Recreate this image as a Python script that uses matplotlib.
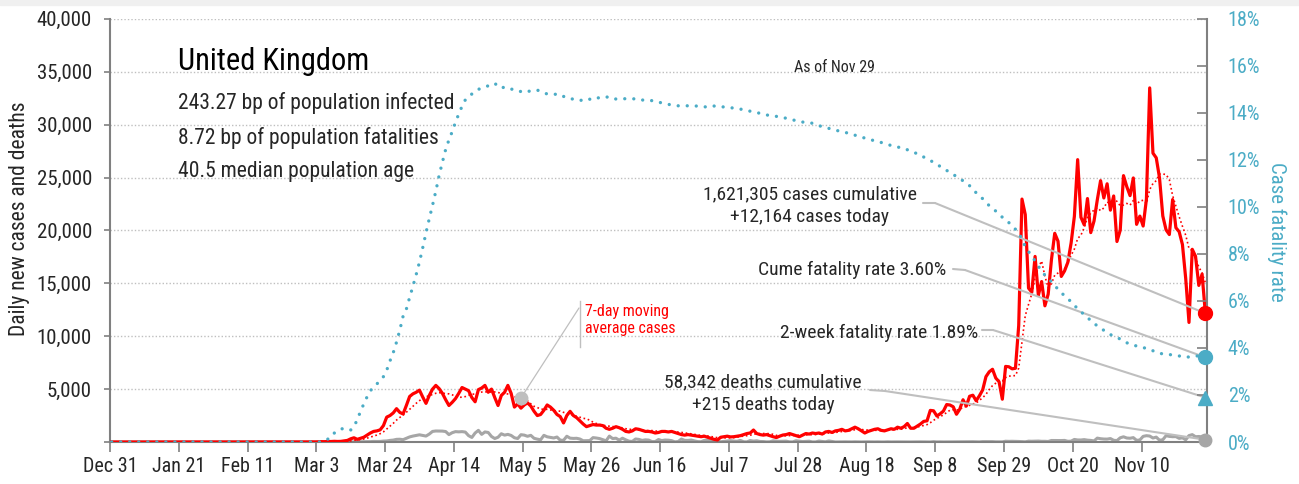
import numpy as np
import pandas as pd
import matplotlib
matplotlib.use('Agg')
import matplotlib.pyplot as plt
from matplotlib.patches import ConnectionPatch, Rectangle
from matplotlib.lines import Line2D

plt.rcParams['font.family'] = ['Roboto Condensed', 'IBM Plex Sans Condensed', 'DejaVu Sans']

# daily new cases, Dec 31 2019 -> Nov 29 2020, one list per month
cases_dec = [0]
cases_jan = [0] * 30 + [2]
cases_feb = [0, 0, 0, 0, 0, 1, 0, 0, 0, 4, 1, 0, 0, 0, 0, 0, 0, 0, 0, 0,
             0, 0, 0, 0, 4, 0, 2, 5, 3]
cases_mar = [12, 4, 11, 34, 29, 46, 46, 65, 50, 60, 100, 150, 300, 400, 250,
             350, 450, 650, 850, 1000, 1050, 1150, 1550, 2350, 2500, 2750,
             3150, 2800, 2650, 3450, 4300]
cases_apr = [4550, 4700, 4900, 4250, 3650, 4400, 5000, 5350, 5050, 4600,
             4000, 3450, 3750, 4100, 4600, 5150, 5000, 4850, 4200, 3800,
             4950, 5100, 5350, 4700, 5000, 4200, 3450, 4400, 4700, 5350]
cases_may = [4600, 3300, 3600, 3200, 3500, 3700, 3400, 2900, 2500, 2600,
             3000, 3500, 3300, 3000, 2600, 2400, 1800, 2500, 2900, 2500,
             2300, 2000, 1700, 1450, 1550, 1650, 1600, 1600, 1550, 1300, 1200]
cases_jun = [1300, 1450, 1350, 1200, 1000, 950, 1050, 1250, 1200, 1100,
             1000, 1000, 950, 850, 900, 1000, 1000, 950, 1000, 900,
             800, 700, 650, 700, 650, 600, 550, 500, 550, 450]
cases_jul = [350, 250, 190, 450, 500, 550, 480, 500, 550, 600,
             700, 800, 850, 1130, 800, 700, 650, 700, 600, 500,
             420, 550, 660, 700, 800, 700, 600, 500, 650, 800, 750]
cases_aug = [850, 800, 850, 750, 950, 1000, 900, 1050, 1100, 1200,
             1050, 1100, 1250, 1400, 1250, 1050, 850, 1000, 1100, 1200,
             1250, 1100, 1050, 1150, 1250, 1200, 1400, 1300, 1450, 1750, 1300]
cases_sep = [1300, 1500, 1700, 1950, 2000, 2988, 2948, 2460, 2659, 2919,
             3539, 3497, 3330, 2621, 3105, 3991, 3395, 4322, 4422, 3899,
             4368, 4926, 6178, 6634, 6874, 6042, 5693, 4044, 7143, 7108]
cases_oct = [6914, 6968, 11000, 22961, 21500, 14542, 14162, 17540, 13864,
             15166, 12872, 13972, 17234, 19724, 18980, 15650, 16171, 16982,
             18804, 21331, 26688, 21242, 20530, 23012, 19790, 20890, 22885,
             24701, 23065, 24405, 21915]
cases_nov = [23254, 18950, 20018, 25177, 24141, 23287, 24957, 20572, 21350,
             20412, 22950, 33470, 27301, 26860, 24962, 21363, 20051, 19609,
             22915, 20252, 19875, 18662, 15450, 11299, 18213, 17555, 14800,
             15871, 12164]

# daily new deaths
deaths_dec = [0]
deaths_jan = [0] * 31
deaths_feb = [0] * 29
deaths_mar = [0, 0, 0, 0, 1, 1, 0, 1, 1, 2, 2, 1, 10, 14, 20, 16, 33, 40, 33,
              56, 48, 54, 87, 100, 150, 180, 250, 260, 220, 350, 480]
deaths_apr = [560, 620, 680, 620, 560, 750, 1000, 1040, 1040, 1030, 990, 700,
              880, 980, 960, 980, 940, 600, 430, 850, 1100, 720, 950, 900,
              520, 330, 450, 780, 650, 720]
deaths_may = [620, 400, 330, 690, 650, 540, 630, 350, 270, 210, 630, 490, 430,
              380, 470, 170, 160, 545, 363, 338, 351, 282, 118, 121, 134, 412,
              377, 324, 215, 113, 556]
deaths_jun = [324, 359, 176, 357, 204, 77, 55, 286, 245, 151, 202, 181, 36, 38,
              233, 135, 184, 173, 128, 15, 43, 280, 154, 149, 186, 100, 36, 25,
              155, 176]
deaths_jul = [89, 137, 67, 22, 58, 85, 126, 85, 66, 148, 21, 11, 138, 85, 114,
              49, 40, 11, 18, 110, 79, 61, 66, 79, 14, 11, 119, 83, 38, 53, 74]
deaths_aug = [7, 8, 89, 49, 20, 98, 55, 3, 8, 11, 16, 12, 6, 18, 5, 2, 12, 16,
              6, 6, 12, 2, 3, 16, 6, 12, 10, 6, 1, 2, 3]
deaths_sep = [10, 8, 14, 12, 2, 3, 32, 8, 14, 6, 9, 5, 9, 27, 20, 21, 21, 27,
              27, 18, 11, 37, 37, 40, 34, 17, 17, 13, 71, 59]
deaths_oct = [66, 59, 49, 33, 19, 76, 70, 77, 87, 65, 65, 50, 143, 137, 138,
              136, 150, 67, 80, 241, 191, 189, 224, 174, 151, 102, 367, 310,
              280, 274, 326]
deaths_nov = [162, 136, 397, 492, 378, 355, 413, 156, 194, 532, 595, 563, 376,
              462, 168, 213, 598, 529, 501, 511, 341, 398, 206, 608, 696, 498,
              521, 479, 215]

# cumulative case fatality rate, %
cfr_dec = [0]
cfr_jan = [0] * 31
cfr_feb = [0] * 29
cfr_mar = [0, 0, 0, 0, 0.05, 0.12, 0.30, 0.38, 0.44, 0.55, 0.58, 0.57, 0.51,
           0.65, 0.95, 1.30, 1.62, 1.92, 2.18, 2.33, 2.47, 2.61, 2.78, 3.05,
           3.45, 3.80, 4.25, 4.76, 5.35, 5.65, 6.15]
cfr_apr = [6.62, 7.12, 7.65, 8.26, 8.90, 9.50, 10.07, 10.67, 11.33, 11.90,
           12.44, 12.85, 13.20, 13.60, 13.95, 14.28, 14.55, 14.70, 14.80,
           14.92, 15.00, 15.05, 15.10, 15.15, 15.20, 15.26, 15.12, 15.05,
           15.10, 15.06]
cfr_may = [15.01, 14.99, 14.97, 14.90, 14.86, 14.90, 14.94, 14.96, 14.97,
           14.90, 14.86, 14.80, 14.79, 14.79, 14.79, 14.79, 14.70, 14.63,
           14.61, 14.58, 14.55, 14.52, 14.56, 14.61, 14.58, 14.55, 14.60,
           14.66, 14.68, 14.69, 14.63]
cfr_jun = [14.58, 14.59, 14.60, 14.60, 14.60, 14.60, 14.60, 14.59, 14.59,
           14.55, 14.52, 14.52, 14.52, 14.50, 14.46, 14.42, 14.39, 14.36,
           14.34, 14.32, 14.30, 14.30, 14.30, 14.30, 14.29, 14.29, 14.29,
           14.28, 14.26, 14.24]
cfr_jul = [14.27, 14.29, 14.28, 14.26, 14.25, 14.24, 14.22, 14.20, 14.18,
           14.16, 14.13, 14.10, 14.07, 14.04, 14.01, 13.98, 13.95, 13.91,
           13.89, 13.87, 13.85, 13.84, 13.80, 13.77, 13.73, 13.70, 13.67,
           13.65, 13.61, 13.58, 13.57]
cfr_aug = [13.56, 13.50, 13.45, 13.42, 13.39, 13.34, 13.30, 13.27, 13.23,
           13.20, 13.17, 13.13, 13.10, 13.05, 13.00, 12.96, 12.93, 12.89,
           12.85, 12.81, 12.78, 12.74, 12.70, 12.66, 12.61, 12.57, 12.54,
           12.53, 12.47, 12.43, 12.37]
cfr_sep = [12.32, 12.26, 12.21, 12.12, 12.04, 11.97, 11.90, 11.82, 11.72,
           11.63, 11.55, 11.47, 11.38, 11.29, 11.20, 11.11, 11.02, 10.90,
           10.75, 10.60, 10.45, 10.35, 10.20, 10.05, 9.95, 9.82, 9.68, 9.56,
           9.42, 9.33]
cfr_oct = [9.19, 9.05, 8.90, 8.62, 8.31, 8.10, 7.90, 7.70, 7.48, 7.26, 7.10,
           6.95, 6.82, 6.65, 6.50, 6.35, 6.22, 6.09, 5.97, 5.82, 5.66, 5.54,
           5.42, 5.29, 5.17, 5.03, 4.95, 4.84, 4.75, 4.65, 4.57]
cfr_nov = [4.50, 4.44, 4.38, 4.30, 4.22, 4.17, 4.13, 4.08, 4.03, 4.01, 3.99,
           3.93, 3.88, 3.82, 3.77, 3.75, 3.73, 3.72, 3.70, 3.68, 3.66, 3.63,
           3.60, 3.62, 3.66, 3.66, 3.66, 3.64, 3.60]

cfr_2wk = 1.89
total_cases = 1621305
total_deaths = 58342

tick_labels = ['Dec 31', 'Jan 21', 'Feb 11', 'Mar 3', 'Mar 24', 'Apr 14',
               'May 5', 'May 26', 'Jun 16', 'Jul 7', 'Jul 28', 'Aug 18',
               'Sep 8', 'Sep 29', 'Oct 20', 'Nov 10']

months = ['dec', 'jan', 'feb', 'mar', 'apr', 'may', 'jun', 'jul', 'aug',
          'sep', 'oct', 'nov']
cases = np.array(sum([globals()['cases_' + m] for m in months], []), float)
deaths = np.array(sum([globals()['deaths_' + m] for m in months], []), float)
cfr = np.array(sum([globals()['cfr_' + m] for m in months], []), float)

days = np.arange(len(cases))
x = days + 0.5          # each day sits in the middle of its slot
ma7 = pd.Series(cases).rolling(7, min_periods=1).mean().values

RED = '#ff0000'
TEAL = '#4bacc6'
GREY = '#a6a6a6'
LEAD = '#bfbfbf'
AXIS = '#808080'
INK = '#262626'

W, H = 1299, 484
fig = plt.figure(figsize=(W / 100, H / 100), dpi=100)
fig.patches.append(Rectangle((0, 1 - 5 / H), 1, 5 / H, transform=fig.transFigure,
                             color='#f0f0f0', zorder=0))


def fpx(px, py):
    # pixel position measured from the top-left corner
    return (px, H - py)


ax = fig.add_axes([110 / W, 42 / H, 1097 / W, 423.2 / H])
ax2 = ax.twinx()

ax.plot(x, cases, color=RED, lw=2.3, solid_joinstyle='round', zorder=3)
ax.plot(x, ma7, color=RED, lw=1.2, linestyle=(0, (1, 1.6)), zorder=4)
ax.plot(x, deaths, color=GREY, lw=2.2, zorder=2)
ax2.plot(x, cfr, color=TEAL, lw=2.4, linestyle=(0, (0.01, 2.7)),
         dash_capstyle='round', zorder=3)

ax.set_xlim(0, 335)
ax.set_ylim(0, 40000)
ax2.set_ylim(0, 18)

ax.set_xticks(np.arange(0, 316, 21))
ax.set_xticklabels(tick_labels)
ax.set_yticks(np.arange(0, 40001, 5000))
ax.set_yticklabels([''] + ['{:,}'.format(v) for v in range(5000, 40001, 5000)])
ax.yaxis.grid(True, linestyle=(0, (1, 1.5)), color=LEAD, lw=1)
ax.set_axisbelow(True)

ax2.set_yticks(np.arange(0, 19, 2))
ax2.set_yticklabels(['{}%'.format(v) for v in range(0, 19, 2)])

ax.tick_params(axis='x', direction='out', length=7, width=1.2, color=AXIS,
               labelsize=14.5, labelcolor=INK, pad=4)
ax.tick_params(axis='y', direction='out', length=4, width=1.2, color=AXIS,
               labelsize=15, labelcolor=INK, pad=9)
ax2.tick_params(axis='y', direction='in', length=7, width=1.2, color=AXIS,
                labelsize=14.5, labelcolor=TEAL, pad=15)

for s in ['top', 'right']:
    ax.spines[s].set_visible(False)
for s in ['top', 'left', 'bottom']:
    ax2.spines[s].set_visible(False)
for sp in [ax.spines['left'], ax.spines['bottom'], ax2.spines['right']]:
    sp.set_color(AXIS)
    sp.set_linewidth(1.5)

fig.text(20 / W, 1 - 219 / H, 'Daily new cases and deaths', rotation=90,
         ha='center', va='center', fontsize=15.5, color=INK)
fig.text(1277 / W, 1 - 232 / H, 'Case fatality rate', rotation=270,
         ha='center', va='center', fontsize=15, color=TEAL)

# headline block
fig.text(178 / W, 1 - 62 / H, 'United Kingdom', fontsize=22, color='black',
         ha='left', va='center')
for yy, line in [(103, '243.27 bp of population infected'),
                 (138, '8.72 bp of population fatalities'),
                 (172, '40.5 median population age')]:
    fig.text(178 / W, 1 - yy / H, line, fontsize=15.5, color=INK,
             ha='left', va='center')
fig.text(834 / W, 1 - 68 / H, 'As of Nov 29', fontsize=11.5, color=INK,
         ha='center', va='center')

# end-of-series markers
last = x[-1]
ax2.plot(last, cases[-1], 'o', color=RED, ms=10, transform=ax.transData,
         clip_on=False, zorder=6)
ax2.plot(last, deaths[-1], 'o', color=GREY, ms=9, transform=ax.transData,
         clip_on=False, zorder=6)
ax2.plot(last, cfr[-1], 'o', color=TEAL, ms=10, clip_on=False, zorder=6)
ax2.plot(last, cfr_2wk, '^', color=TEAL, ms=10, clip_on=False, zorder=6)


def leader(p0, p1, end, trans, lw=1.5):
    seg = ConnectionPatch(xyA=fpx(*p0), coordsA='figure pixels',
                          xyB=fpx(*p1), coordsB='figure pixels',
                          color=LEAD, lw=lw, zorder=1)
    ax2.add_artist(seg)
    run = ConnectionPatch(xyA=fpx(*p1), coordsA='figure pixels',
                          xyB=end, coordsB=trans, color=LEAD, lw=lw, zorder=1)
    ax2.add_artist(run)


fig.text(810 / W, 1 - 205.5 / H,
         '{:,} cases cumulative\n+{:,} cases today'.format(total_cases, int(cases[-1])),
         ha='center', va='center', fontsize=14, color=INK, linespacing=1.3)
leader((923, 203), (935, 203), (last, cases[-1]), ax.transData)

fig.text(946 / W, 1 - 270 / H, 'Cume fatality rate {:.2f}%'.format(cfr[-1]),
         ha='right', va='center', fontsize=14, color=INK)
leader((953, 269), (965, 270), (last, cfr[-1]), ax2.transData)

fig.text(978 / W, 1 - 333 / H, '2-week fatality rate {:.2f}%'.format(cfr_2wk),
         ha='right', va='center', fontsize=14, color=INK)
leader((982, 330), (993, 330), (last, cfr_2wk), ax2.transData)

fig.text(763 / W, 1 - 393.5 / H,
         '{:,} deaths cumulative\n+{} deaths today'.format(total_deaths, int(deaths[-1])),
         ha='center', va='center', fontsize=14, color=INK, linespacing=1.3)
leader((870, 390), (885, 391), (last, deaths[-1]), ax.transData)

# moving-average callout
ma_day = 125
ax2.plot(x[ma_day], ma7[ma_day], 'o', color=LEAD, ms=9,
         transform=ax.transData, zorder=6)
ax2.add_artist(ConnectionPatch(xyA=(x[ma_day], ma7[ma_day]), coordsA=ax.transData,
                               xyB=fpx(579, 308), coordsB='figure pixels',
                               color=LEAD, lw=0.9, zorder=1))
fig.add_artist(Line2D([579.5, 579.5], [H - 301, H - 347], transform=None,
                      color=LEAD, lw=1))
fig.text(585 / W, 1 - 320 / H, '7-day moving\naverage cases', color=RED,
         fontsize=11.5, ha='left', va='center', linespacing=1.2)

fig.savefig('out.png', dpi=100)
